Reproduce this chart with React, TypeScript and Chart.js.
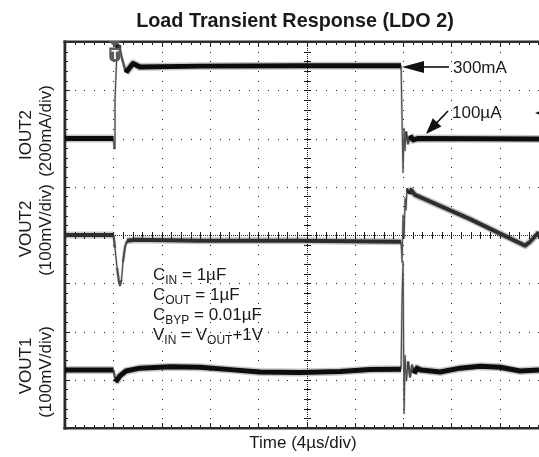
import React, { useEffect, useRef } from "react";
import { Chart, registerables } from "chart.js";

Chart.register(...registerables);

// ---- Scope settings ----
const TIME_PER_DIV_US = 4; // 4 µs/div
const X_MAX_US = 39.25; // visible part of the screen (image is cropped on the right)
const Y_DIVS = 8;
const IOUT2_SCALE = 200; // mA/div
const VOUT2_SCALE = 100; // mV/div
const VOUT1_SCALE = 100; // mV/div
const IOUT2_ZERO_DIV = 6;
const VOUT2_ZERO_DIV = 4;
const VOUT1_ZERO_DIV = 1.2;

// ---- IOUT2 (mA) ----
const IOUT2_T = [0, 4.02, 4.06, 4.14, 4.31, 4.47, 4.72, 5.05, 5.3, 5.63, 6.21, 11.18, 19.46, 27.83, 27.91, 27.99, 28.08, 28.16, 28.24, 28.41, 28.57, 28.82, 29.24, 39.25];
const IOUT2_MA = [0, 0, -41, 157, 373, 389, 331, 273, 290, 311, 296, 300, 302, 302, 75, -141, 41, -50, 29, -21, 12, -6, 0, -2];

// ---- VOUT2 (mV deviation) ----
const VOUT2_T = [0, 4.02, 4.14, 4.31, 4.47, 4.55, 4.68, 4.8, 4.97, 5.13, 5.8, 11.18, 19.46, 27.83, 27.91, 27.99, 28.08, 28.16, 28.24, 28.32, 28.49, 28.66, 28.99, 33.54, 38.1, 38.51, 39.25];
const VOUT2_MV = [0, 0, -27, -68, -97, -104, -93, -56, -25, -12, -10, -12, -12, -14, -56, 41, -6, 77, 52, 97, 85, 93, 83, 33, -22, -14, 6];

// ---- VOUT1 (mV deviation) ----
const VOUT1_T = [0, 4.02, 4.14, 4.31, 4.55, 5.05, 6.21, 8.7, 11.18, 13.67, 16.15, 19.46, 22.78, 25.26, 27.83, 27.91, 27.99, 28.08, 28.16, 28.28, 28.41, 28.57, 28.74, 28.9, 29.15, 29.48, 31.06, 32.72, 34.37, 36.03, 37.68, 39.25];
const VOUT1_MV = [0, 0, -17, -21, -12, -2, 4, 7, 6, 1, -4, -5, -3, 1, 2, 150, 225, -90, 30, -22, 18, -14, 10, -7, 4, 0, -4, 4, 8, 6, -2, 0];

// ---- Text ----
const TITLE = "Load Transient Response (LDO 2)";
const X_LABEL = "Time (4\u00b5s/div)";
const Y_LABELS = [
  { a: "IOUT2", b: "(200mA/div)", ca: 135, cb: 131 },
  { a: "VOUT2", b: "(100mV/div)", ca: 229, cb: 230 },
  { a: "VOUT1", b: "(100mV/div)", ca: 366, cb: 372 },
];
// [main, subscript, main, subscript, main]
const NOTE_LINES: string[][] = [
  ["C", "IN", " = 1\u00b5F"],
  ["C", "OUT", " = 1\u00b5F"],
  ["C", "BYP", " = 0.01\u00b5F"],
  ["V", "IN", " = V", "OUT", "+1V"],
];
const ARROW_300 = "300mA";
const ARROW_100 = "100\u00b5A";

const FONT = '"Liberation Sans", Arial, Helvetica, sans-serif';

function toPoints(t: number[], v: number[], zero: number, scale: number) {
  return t.map((tt, i) => ({ x: tt, y: zero + v[i] / scale }));
}

function slopeOf(c: any) {
  const dx = Math.abs(c.p1.x - c.p0.x);
  const dy = Math.abs(c.p1.y - c.p0.y);
  return { s: dy / Math.max(dx, 0.1), dy };
}
function segWidth(thin: number, mid: number, thick: number) {
  return (c: any) => {
    const { s, dy } = slopeOf(c);
    if (s > 9 && dy > 5) return thin;
    if (s > 2 && dy > 2.5) return mid;
    return thick;
  };
}
function segColor(steep: string, flat: string) {
  return (c: any) => {
    const { s, dy } = slopeOf(c);
    return s > 2 && dy > 2.5 ? steep : flat;
  };
}

function traceSets(data: { x: number; y: number }[], core: string, thick: number) {
  const common = {
    data,
    pointRadius: 0,
    tension: 0,
    fill: false,
    borderJoinStyle: "round" as const,
    borderCapStyle: "butt" as const,
  };
  return [
    {
      ...common,
      borderColor: "rgba(0,0,0,0.22)",
      borderWidth: thick + 3,
      segment: {
        borderWidth: segWidth(2.2, 3, thick + 3),
        borderColor: segColor("rgba(0,0,0,0.25)", "rgba(0,0,0,0.22)"),
      },
    },
    {
      ...common,
      borderColor: core,
      borderWidth: thick,
      segment: {
        borderWidth: segWidth(1.1, 2, thick),
        borderColor: segColor("#666666", core),
      },
    },
  ];
}

const scopePlugin = {
  id: "scope",
  beforeDatasetsDraw(chart: any) {
    const { ctx, chartArea: a, scales } = chart;
    const xs = (t: number) => scales.x.getPixelForValue(t);
    const ys = (d: number) => scales.y.getPixelForValue(d);
    const xMinor = TIME_PER_DIV_US / 5;
    ctx.save();
    ctx.fillStyle = "#1e1e1e";
    // dotted vertical grid lines
    for (let i = 1; i * TIME_PER_DIV_US < X_MAX_US; i++) {
      const px = Math.round(xs(i * TIME_PER_DIV_US));
      for (let k = 1; k < Y_DIVS * 5; k++) {
        ctx.fillRect(px, Math.round(ys(k * 0.2)), 1, 1);
      }
    }
    // dotted horizontal grid lines
    for (let j = 1; j < Y_DIVS; j++) {
      const py = Math.round(ys(j));
      for (let k = 1; k * xMinor < X_MAX_US; k++) {
        ctx.fillRect(Math.round(xs(k * xMinor)), py, 1, 1);
      }
    }
    // centre axes with dense dots + ticks
    const cx = Math.round(xs(5 * TIME_PER_DIV_US));
    const cy = Math.round(ys(4));
    for (let py = a.top; py < a.bottom; py += 2) ctx.fillRect(cx, py, 1, 1);
    for (let px = a.left; px < a.right; px += 2) ctx.fillRect(px, cy, 1, 1);
    for (let k = 1; k < Y_DIVS * 5; k++) {
      ctx.fillRect(cx - 3, Math.round(ys(k * 0.2)), 7, 1);
    }
    for (let k = 1; k * xMinor < X_MAX_US; k++) {
      ctx.fillRect(Math.round(xs(k * xMinor)), cy - 3, 1, 7);
    }
    // border ticks
    for (let k = 1; k * xMinor < X_MAX_US; k++) {
      const px = Math.round(xs(k * xMinor));
      const len = k % 5 === 0 ? 5 : 3;
      ctx.fillRect(px, a.top, 1, len);
      ctx.fillRect(px, a.bottom - len, 1, len);
    }
    for (let k = 1; k < Y_DIVS * 5; k++) {
      const py = Math.round(ys(k * 0.2));
      const len = k % 5 === 0 ? 5 : 3;
      ctx.fillRect(a.left, py, len, 1);
    }
    // frame
    ctx.fillStyle = "#2b2b2b";
    ctx.fillRect(a.left - 1.5, a.top - 1.5, a.right - a.left + 3, 2.5);
    ctx.fillRect(a.left - 1.5, a.bottom - 1, a.right - a.left + 3, 2.5);
    ctx.fillRect(a.left - 1.5, a.top - 1.5, 2.8, a.bottom - a.top + 3);
    ctx.restore();
  },
  afterDatasetsDraw(chart: any) {
    const { ctx, scales } = chart;
    const xs = (t: number) => scales.x.getPixelForValue(t);
    ctx.save();
    // trigger marker
    const tx = xs(TIME_PER_DIV_US) + 1.5;
    ctx.fillStyle = "#5a5a5a";
    ctx.beginPath();
    ctx.moveTo(tx - 6.5, 41);
    ctx.lineTo(tx + 6.5, 41);
    ctx.lineTo(tx, 47);
    ctx.closePath();
    ctx.fill();
    ctx.beginPath();
    ctx.moveTo(tx - 5.5, 47.5);
    ctx.lineTo(tx + 5.5, 47.5);
    ctx.lineTo(tx + 5.5, 57);
    ctx.quadraticCurveTo(tx + 5.5, 61.5, tx, 62);
    ctx.quadraticCurveTo(tx - 5.5, 61.5, tx - 5.5, 57);
    ctx.closePath();
    ctx.fill();
    ctx.fillStyle = "#ffffff";
    ctx.font = `bold 12px ${FONT}`;
    ctx.textAlign = "center";
    ctx.textBaseline = "alphabetic";
    ctx.fillText("T", tx, 59);

    // arrows
    ctx.fillStyle = "#111";
    ctx.strokeStyle = "#111";
    ctx.lineWidth = 1.6;
    // 300mA
    ctx.beginPath();
    ctx.moveTo(449, 67);
    ctx.lineTo(420, 67);
    ctx.stroke();
    ctx.beginPath();
    ctx.moveTo(402, 67);
    ctx.lineTo(424, 61);
    ctx.lineTo(424, 73);
    ctx.closePath();
    ctx.fill();
    // 100µA
    const tip = { x: 426, y: 134 };
    const tail = { x: 448, y: 111 };
    const dx = tip.x - tail.x, dy = tip.y - tail.y;
    const L = Math.hypot(dx, dy);
    const ux = dx / L, uy = dy / L;
    const hl = 16, hw = 6;
    const bx = tip.x - ux * hl, by = tip.y - uy * hl;
    ctx.beginPath();
    ctx.moveTo(tail.x, tail.y);
    ctx.lineTo(bx + ux * 2, by + uy * 2);
    ctx.stroke();
    ctx.beginPath();
    ctx.moveTo(tip.x, tip.y);
    ctx.lineTo(bx - uy * hw, by + ux * hw);
    ctx.lineTo(bx + uy * hw, by - ux * hw);
    ctx.closePath();
    ctx.fill();
    // partial arrow at the right edge
    ctx.beginPath();
    ctx.moveTo(535, 113);
    ctx.lineTo(552, 107);
    ctx.lineTo(552, 119);
    ctx.closePath();
    ctx.fill();

    // text
    ctx.fillStyle = "#1a1a1a";
    ctx.textAlign = "left";
    ctx.font = `17px ${FONT}`;
    ctx.fillText(ARROW_300, 453, 73);
    ctx.fillText(ARROW_100, 452, 118);

    // title
    ctx.textAlign = "center";
    ctx.font = `bold 19.8px ${FONT}`;
    ctx.fillText(TITLE, 295, 27);

    // x label
    ctx.font = `17px ${FONT}`;
    ctx.fillText(X_LABEL, 303, 448);

    // y labels
    Y_LABELS.forEach((l) => {
      ctx.save();
      ctx.translate(31, l.ca);
      ctx.rotate(-Math.PI / 2);
      ctx.fillText(l.a, 0, 0);
      ctx.restore();
      ctx.save();
      ctx.translate(51, l.cb);
      ctx.rotate(-Math.PI / 2);
      ctx.fillText(l.b, 0, 0);
      ctx.restore();
    });

    // condition notes
    ctx.textAlign = "left";
    NOTE_LINES.forEach((parts, i) => {
      const base = 280 + i * 20;
      let x = 153;
      parts.forEach((p, j) => {
        const sub = j % 2 === 1;
        ctx.font = sub ? `12px ${FONT}` : `17px ${FONT}`;
        ctx.fillText(p, x, sub ? base + 4 : base);
        x += ctx.measureText(p).width;
      });
    });
    ctx.restore();
  },
};

export default function App() {
  const ref = useRef<HTMLCanvasElement>(null);
  useEffect(() => {
    const canvas = ref.current;
    if (!canvas) return;
    const chart = new Chart(canvas, {
      type: "line",
      data: {
        datasets: [
          ...traceSets(toPoints(VOUT2_T, VOUT2_MV, VOUT2_ZERO_DIV, VOUT2_SCALE), "#3c3c3c", 4),
          ...traceSets(toPoints(IOUT2_T, IOUT2_MA, IOUT2_ZERO_DIV, IOUT2_SCALE), "#111111", 5),
          ...traceSets(toPoints(VOUT1_T, VOUT1_MV, VOUT1_ZERO_DIV, VOUT1_SCALE), "#111111", 5),
        ] as any,
      },
      options: {
        animation: false,
        responsive: false,
        devicePixelRatio: 1,
        layout: { padding: { left: 65, top: 42, right: 0, bottom: 29 } },
        scales: {
          x: { type: "linear", min: 0, max: X_MAX_US, display: false },
          y: { type: "linear", min: 0, max: Y_DIVS, display: false },
        },
        plugins: {
          legend: { display: false },
          tooltip: { enabled: false },
          title: { display: false },
        },
        elements: { point: { radius: 0 } },
      },
      plugins: [scopePlugin],
    });
    return () => chart.destroy();
  }, []);
  return (
    <div style={{ position: "absolute", left: 0, top: 0, width: 539, height: 457, background: "#fff" }}>
      <canvas ref={ref} width={539} height={457} style={{ display: "block", width: 539, height: 457 }} />
    </div>
  );
}
